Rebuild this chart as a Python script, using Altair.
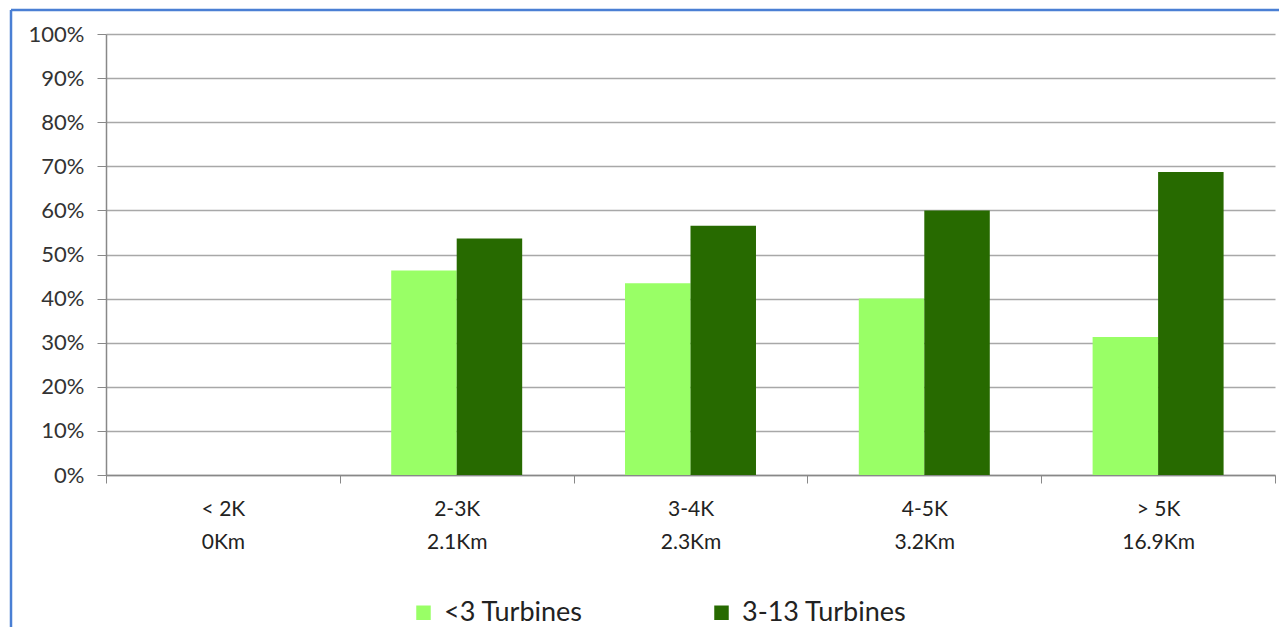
import altair as alt
import pandas as pd

categories = ["< 2K|0Km", "2-3K|2.1Km", "3-4K|2.3Km", "4-5K|3.2Km", "> 5K|16.9Km"]
series = ["<3 Turbines", "3-13 Turbines"]
low_values = [0.0, 0.464, 0.435, 0.400, 0.313]
high_values = [0.0, 0.536, 0.565, 0.600, 0.687]
y_ticks = [0, 0.1, 0.2, 0.3, 0.4, 0.5, 0.6, 0.7, 0.8, 0.9, 1.0]
colors = ["#99FF66", "#276A00"]

rows = []
for c, lo, hi in zip(categories, low_values, high_values):
    rows.append({"cat": c, "series": series[0], "value": lo})
    rows.append({"cat": c, "series": series[1], "value": hi})
df = pd.DataFrame(rows)

FONT = "Lato"
W, H = 1169, 441

bars = alt.Chart(df).mark_bar().encode(
    x=alt.X(
        "cat:N", sort=categories, title=None,
        scale=alt.Scale(paddingInner=0, paddingOuter=0),
        axis=alt.Axis(
            tickBand="extent", labelExpr="split(datum.label, '|')",
            labelAngle=0, labelFontSize=21, labelLineHeight=33,
            labelPadding=15, labelColor="#222", labelFont=FONT,
            tickSize=8, tickColor="#888", domainColor="#888",
            domainWidth=1.5, grid=False,
        ),
    ),
    xOffset=alt.XOffset("series:N", sort=series,
                        scale=alt.Scale(paddingInner=0, paddingOuter=0.785)),
    y=alt.Y(
        "value:Q", title=None,
        scale=alt.Scale(domain=[0, 1], nice=False),
        axis=alt.Axis(
            values=y_ticks, format=".0%", labelFontSize=22, labelColor="#333",
            labelFont=FONT, labelPadding=13, tickSize=9, tickColor="#888",
            domainColor="#888", domainWidth=1.5, gridColor="#a8a8a8", gridWidth=1.6,
        ),
    ),
    color=alt.Color(
        "series:N", sort=series, title=None,
        scale=alt.Scale(domain=series, range=colors),
        legend=alt.Legend(
            orient="none", direction="horizontal", legendX=304, legendY=565,
            symbolType="square", symbolSize=210, symbolStrokeWidth=0,
            labelFontSize=27, labelFont=FONT, labelColor="#222", labelLimit=400,
            columnPadding=125, labelOffset=7,
        ),
    ),
)

frame = pd.DataFrame({"k": [0]})
left_border = alt.Chart(frame).mark_rule(color="#4A7FD4", strokeWidth=2.5).encode(
    x=alt.value(-95), y=alt.value(-24), y2=alt.value(H + 200)
)
top_border = alt.Chart(frame).mark_rule(color="#4A7FD4", strokeWidth=2.5).encode(
    x=alt.value(-95), x2=alt.value(W + 50), y=alt.value(-24)
)

chart = alt.layer(bars, left_border, top_border).properties(
    width=W, height=H,
    autosize=alt.AutoSizeParams(type="none"),
    padding={"left": 98, "top": 26, "right": 4, "bottom": 152},
    background="white",
).configure_view(strokeWidth=0)

chart.save("out.html", embed_options={"renderer": "svg", "actions": False})
